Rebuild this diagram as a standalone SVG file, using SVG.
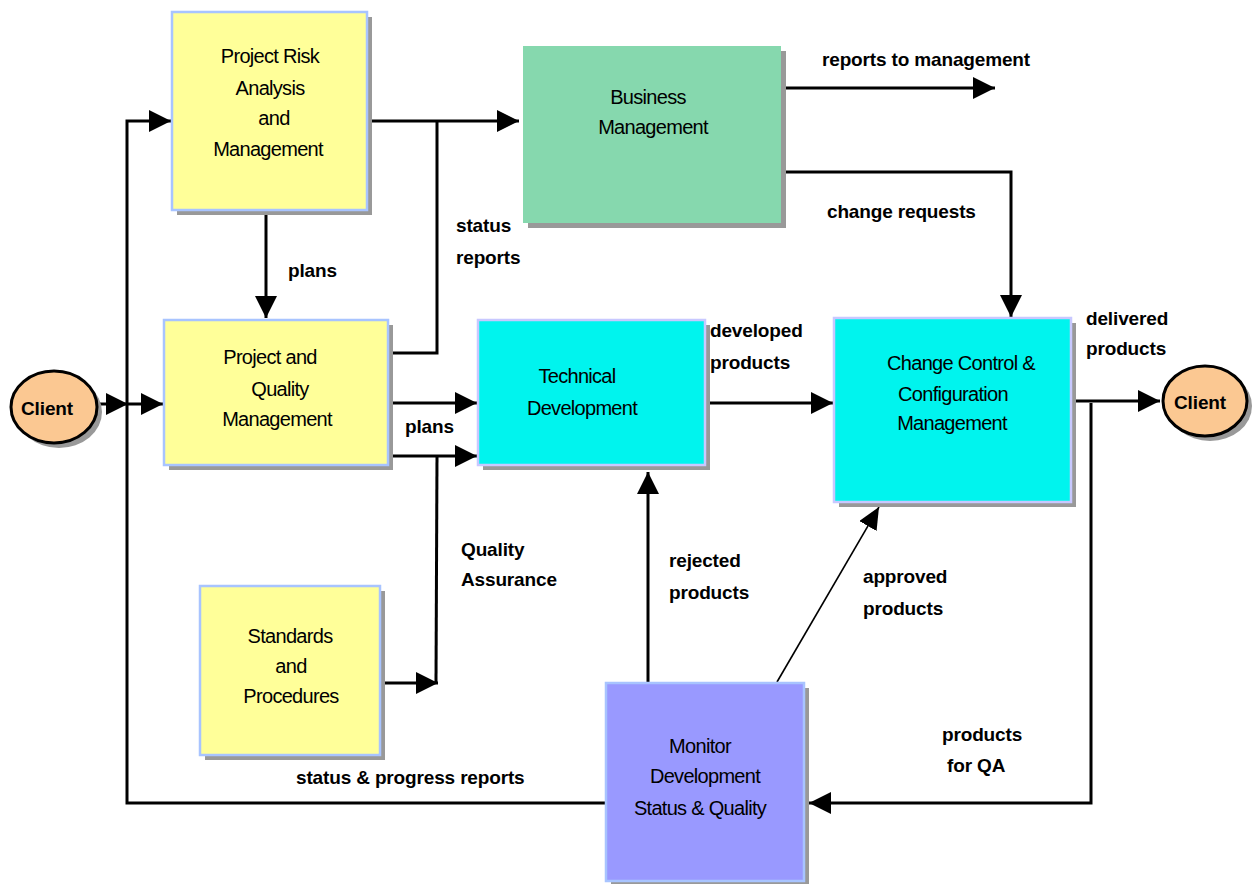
<svg xmlns="http://www.w3.org/2000/svg" width="1254" height="884" viewBox="0 0 1254 884">
<style>
.bg{fill:#ffffff}
.sh{fill:#999999}
.yel{fill:#ffff99;stroke:#a8c4ff;stroke-width:2.5}
.cyan{fill:#00f4ee;stroke:#c8c8ff;stroke-width:2.5}
.green{fill:#86d8ae}
.blue{fill:#9999ff;stroke:#a8c4ff;stroke-width:2.5}
.client{fill:#fbc892;stroke:#000;stroke-width:3}
.nt{font-family:"Liberation Sans",Arial,sans-serif;font-size:20px;letter-spacing:-0.7px;fill:#000;text-anchor:middle}
.lb{font-family:"Liberation Sans",Arial,sans-serif;font-size:19px;font-weight:bold;letter-spacing:-0.15px;fill:#000}
.cl{font-family:"Liberation Sans",Arial,sans-serif;font-size:19px;font-weight:bold;letter-spacing:-0.15px;fill:#000;text-anchor:middle}
.ln{fill:none;stroke:#000;stroke-width:3}
.thin{fill:none;stroke:#000;stroke-width:1.6}
</style>
<defs>
<marker id="ah" markerUnits="userSpaceOnUse" markerWidth="22" markerHeight="22" refX="22" refY="11" orient="auto">
<path d="M0,0 L22,11 L0,22 z" fill="#000"/>
</marker>
<marker id="ah2" markerUnits="userSpaceOnUse" markerWidth="22" markerHeight="20" refX="22" refY="10" orient="auto">
<path d="M0,0 L22,10 L0,20 z" fill="#000"/>
</marker>
</defs>
<rect class="bg" x="0" y="0" width="1254" height="884"/>

<g id="connectors">
<path class="ln" d="M606,803 L127,803 L127,121 L171,121" marker-end="url(#ah)"/>
<path class="ln" d="M99,404 L128,404" marker-end="url(#ah)"/>
<path class="ln" d="M127,404 L163,404" marker-end="url(#ah)"/>
<path class="ln" d="M367,121 L519,121" marker-end="url(#ah)"/>
<path class="ln" d="M388,353 L437,353 L437,121"/>
<path class="ln" d="M266,210 L266,318" marker-end="url(#ah)"/>
<path class="ln" d="M388,403 L477,403" marker-end="url(#ah)"/>
<path class="ln" d="M388,456 L477,456" marker-end="url(#ah)"/>
<path class="ln" d="M437,456 L436,683"/>
<path class="ln" d="M384,683 L438,683" marker-end="url(#ah)"/>
<path class="ln" d="M705,403 L833,403" marker-end="url(#ah)"/>
<path class="ln" d="M781,88 L995,88" marker-end="url(#ah)"/>
<path class="ln" d="M786,172 L1011,172 L1011,317" marker-end="url(#ah)"/>
<path class="ln" d="M1071,401 L1160,401" marker-end="url(#ah)"/>
<path class="ln" d="M1091,403 L1091,803 L809,803" marker-end="url(#ah)"/>
<path class="ln" d="M648,683 L648,472" marker-end="url(#ah)"/>
<path class="thin" d="M777,682 L879,507" marker-end="url(#ah2)"/>
</g>

<g id="risk">
<rect class="sh" x="177" y="17" width="195" height="198"/>
<rect class="yel" x="172" y="12" width="195" height="198"/>
<text class="nt" x="270" y="63">Project Risk</text>
<text class="nt" x="270" y="95">Analysis</text>
<text class="nt" x="274" y="125">and</text>
<text class="nt" x="268" y="156">Management</text>
</g>

<g id="business">
<rect class="sh" x="528" y="51" width="258" height="177"/>
<rect class="green" x="523" y="46" width="258" height="177"/>
<text class="nt" x="648" y="104">Business</text>
<text class="nt" x="653" y="134">Management</text>
</g>

<g id="pqm">
<rect class="sh" x="169" y="325" width="224" height="145"/>
<rect class="yel" x="164" y="320" width="224" height="145"/>
<text class="nt" x="270" y="364">Project and</text>
<text class="nt" x="280" y="396">Quality</text>
<text class="nt" x="277" y="426">Management</text>
</g>

<g id="technical">
<rect class="sh" x="483" y="325" width="227" height="145"/>
<rect class="cyan" x="478" y="320" width="227" height="145"/>
<text class="nt" x="577" y="383">Technical</text>
<text class="nt" x="582" y="415">Development</text>
</g>

<g id="change">
<rect class="sh" x="839" y="323" width="237" height="184"/>
<rect class="cyan" x="834" y="318" width="237" height="184"/>
<text class="nt" x="961" y="370">Change Control &amp;</text>
<text class="nt" x="953" y="401">Configuration</text>
<text class="nt" x="952" y="430">Management</text>
</g>

<g id="standards">
<rect class="sh" x="205" y="591" width="180" height="169"/>
<rect class="yel" x="200" y="586" width="180" height="169"/>
<text class="nt" x="290" y="643">Standards</text>
<text class="nt" x="291" y="673">and</text>
<text class="nt" x="291" y="703">Procedures</text>
</g>

<g id="monitor">
<rect class="sh" x="611" y="688" width="198" height="200"/>
<rect class="blue" x="606" y="683" width="198" height="198"/>
<text class="nt" x="700" y="753">Monitor</text>
<text class="nt" x="705" y="783">Development</text>
<text class="nt" x="700" y="815">Status &amp; Quality</text>
</g>

<g id="client-left">
<ellipse class="sh" cx="59" cy="412" rx="43" ry="36"/>
<ellipse class="client" cx="54" cy="407" rx="43" ry="36"/>
<text class="cl" x="47" y="415">Client</text>
</g>

<g id="client-right">
<ellipse class="sh" cx="1210" cy="406" rx="42" ry="35"/>
<ellipse class="client" cx="1205" cy="401" rx="42" ry="35"/>
<text class="cl" x="1200" y="409">Client</text>
</g>

<g id="labels">
<text class="lb" x="288" y="277">plans</text>
<text class="lb" x="456" y="232">status</text>
<text class="lb" x="456" y="264">reports</text>
<text class="lb" x="822" y="66">reports to management</text>
<text class="lb" x="827" y="218">change requests</text>
<text class="lb" x="710" y="337">developed</text>
<text class="lb" x="710" y="369">products</text>
<text class="lb" x="405" y="433">plans</text>
<text class="lb" x="1086" y="325">delivered</text>
<text class="lb" x="1086" y="355">products</text>
<text class="lb" x="461" y="556">Quality</text>
<text class="lb" x="461" y="586">Assurance</text>
<text class="lb" x="669" y="567">rejected</text>
<text class="lb" x="669" y="599">products</text>
<text class="lb" x="863" y="583">approved</text>
<text class="lb" x="863" y="615">products</text>
<text class="lb" x="942" y="741">products</text>
<text class="lb" x="947" y="772">for QA</text>
<text class="lb" x="296" y="784">status &amp; progress reports</text>
</g>
</svg>
